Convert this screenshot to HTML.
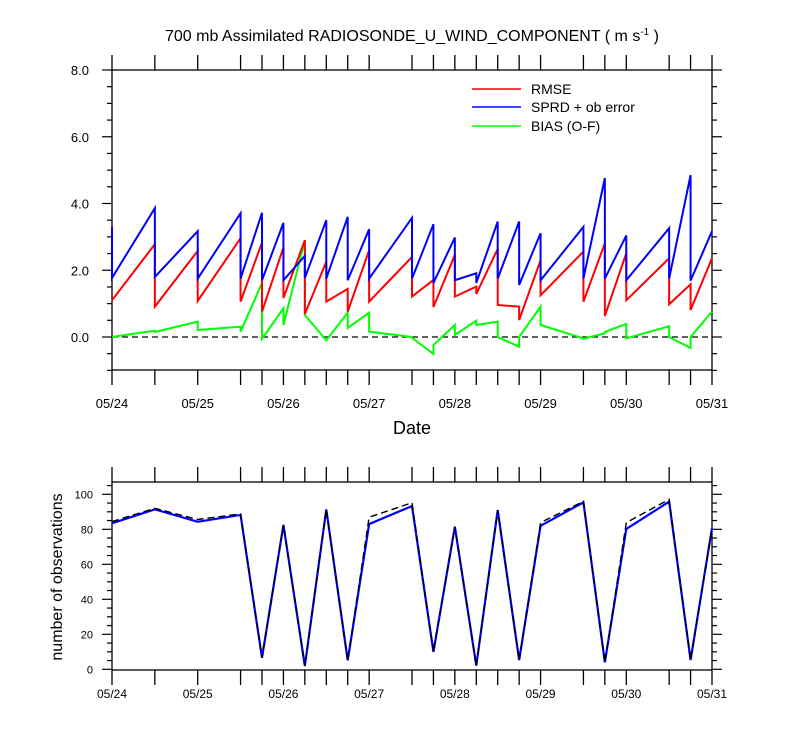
<!DOCTYPE html>
<html><head><meta charset="utf-8"><style>
body{margin:0;background:#fff}
svg text{font-family:"Liberation Sans",sans-serif;fill:#000}
</style></head><body>
<svg id="c" width="800" height="750" xmlns="http://www.w3.org/2000/svg">
<text x="412" y="41" font-size="16" text-anchor="middle">700 mb Assimilated RADIOSONDE_U_WIND_COMPONENT ( m s<tspan dy="-6" font-size="10">-1</tspan><tspan dy="6"> )</tspan></text>
<text x="412" y="434" font-size="18" text-anchor="middle">Date</text>
<text transform="translate(62,577) rotate(-90)" font-size="16" text-anchor="middle">number of observations</text>
<g>
<line x1="472" x2="521" y1="89" y2="89" stroke="#f00" stroke-width="1.5"/>
<text x="531" y="94" font-size="14">RMSE</text>
<line x1="472" x2="521" y1="107" y2="107" stroke="#00f" stroke-width="1.5"/>
<text x="531" y="112" font-size="14">SPRD + ob error</text>
<line x1="472" x2="521" y1="126" y2="126" stroke="#0f0" stroke-width="1.5"/>
<text x="531" y="131" font-size="14">BIAS (O-F)</text>
</g>
</svg>
<script>
const times=[0,0.5,1,1.5,1.75,2,2.25,2.5,2.75,3,3.5,3.75,4,4.25,4.5,4.75,5,5.5,5.75,6,6.5,6.75,7];
const dayLabels=["05/24","05/25","05/26","05/27","05/28","05/29","05/30","05/31"];
const rmseBefore=[1.1,2.78,2.58,2.96,2.83,2.68,2.9,2.26,1.44,2.6,2.4,1.71,2.46,1.51,2.64,0.91,2.3,2.56,2.81,2.51,2.36,1.58,2.36];
const rmseAfter=[1.1,0.91,1.08,1.06,0.76,1.17,0.69,1.06,0.76,1.06,1.21,0.9,1.21,1.29,0.96,0.51,1.25,1.06,0.63,1.1,0.98,0.81,2.36];
const sprdBefore=[3.3,3.86,3.17,3.71,3.72,3.42,2.43,3.5,3.6,3.23,3.57,3.38,2.98,1.91,3.46,3.46,3.11,3.3,4.76,3.04,3.26,4.85,3.17];
const sprdAfter=[1.77,1.8,1.75,1.75,1.7,1.7,1.77,1.75,1.7,1.75,1.75,1.62,1.7,1.62,1.75,1.56,1.7,1.75,1.75,1.7,1.75,1.69,3.17];
const biasBefore=[0,0.19,0.46,0.31,1.62,0.86,2.9,-0.1,0.73,0.73,0,-0.51,0.36,0.49,0.46,-0.29,0.91,-0.04,0.11,0.39,0.32,-0.33,0.76];
const biasAfter=[0,0.15,0.21,0.16,-0.06,0.36,0.66,-0.1,0.27,0.16,-0.02,-0.24,0.06,0.36,0,0,0.36,-0.05,0.15,-0.04,0,0,0.76];
const obsUsed=[83.4,91.4,84.3,88.2,6.6,82.5,1.9,91.4,5.1,83,93.3,10,81.5,2.1,91,5.3,82,95.4,4,80.2,95.8,5.3,80.6];
const obsTotal=[84.4,92,85.6,88.8,6.6,82.5,1.9,91.4,5.1,86.9,95.2,10,81.5,2.1,91,5.3,83.8,96,4,83.8,97.1,5.3,80.6];
const yTicksTop=[0,2,4,6,8];
const yTicksBot=[0,20,40,60,80,100];

const svg=document.getElementById('c');
const NS='http://www.w3.org/2000/svg';
function mk(tag,attrs,name,parent){const e=document.createElementNS(NS,tag);for(const k in attrs)e.setAttribute(k,attrs[k]);


(parent||svg).appendChild(e);return e;}
const X=t=>112+t*600/7;
const Y1=v=>337-v*(267/8);
const Y2=v=>669.3-v*1.75;

// top frame
mk('rect',{x:112,y:70,width:600,height:300,fill:'none',stroke:'#000','stroke-width':1.3},'top-plot-frame');
mk('line',{x1:112,x2:712,y1:Y1(0),y2:Y1(0),stroke:'#000','stroke-width':1.3,'stroke-dasharray':'6,4'},'zero-line');
for(const t of times){
 mk('line',{x1:X(t),x2:X(t),y1:370,y2:385,stroke:'#000','stroke-width':1.3},'x-tick-bottom');
 mk('line',{x1:X(t),x2:X(t),y1:55,y2:70,stroke:'#000','stroke-width':1.3},'x-tick-top');
 mk('line',{x1:X(t),x2:X(t),y1:670,y2:685,stroke:'#000','stroke-width':1.3},'x-tick-obs-bottom');
 mk('line',{x1:X(t),x2:X(t),y1:467,y2:482,stroke:'#000','stroke-width':1.3},'x-tick-obs-top');
}
dayLabels.forEach((d,i)=>{
 const a=mk('text',{x:X(i),y:408,'font-size':13,'text-anchor':'middle'},'x-tick-label');a.textContent=d;
 const b=mk('text',{x:X(i),y:698,'font-size':12,'text-anchor':'middle'},'x-tick-label-obs');b.textContent=d;
});
for(let v=-1;v<=8.001;v+=0.5){
 const maj=Math.abs(v-Math.round(v/2)*2)<1e-6;
 const L=maj?10:5;
 mk('line',{x1:112-L,x2:112,y1:Y1(v),y2:Y1(v),stroke:'#000','stroke-width':1.2},'y-tick-left');
 mk('line',{x1:712,x2:712+L,y1:Y1(v),y2:Y1(v),stroke:'#000','stroke-width':1.2},'y-tick-right');
}
yTicksTop.forEach(v=>{const e=mk('text',{x:89,y:Y1(v)+5,'font-size':13,'text-anchor':'end'},'y-tick-label');e.textContent=v.toFixed(1);});

function saw(b,a){const p=[];times.forEach((t,i)=>{p.push(X(t)+','+Y1(b[i]));p.push(X(t)+','+Y1(a[i]));});return p.join(' ');}
mk('polyline',{points:saw(biasBefore,biasAfter),fill:'none',stroke:'#0f0','stroke-width':2},'bias-series');
mk('polyline',{points:saw(rmseBefore,rmseAfter),fill:'none',stroke:'#f00','stroke-width':2},'rmse-series');
mk('polyline',{points:saw(sprdBefore,sprdAfter),fill:'none',stroke:'#00f','stroke-width':2},'sprd-series');

// bottom plot
mk('rect',{x:112,y:482,width:600,height:188,fill:'none',stroke:'#000','stroke-width':1.3},'obs-plot-frame');
for(let v=0;v<=105;v+=5){
 const maj=v%20===0;const L=maj?10:5;
 mk('line',{x1:112-L,x2:112,y1:Y2(v),y2:Y2(v),stroke:'#000','stroke-width':1.2},'obs-y-tick-left');
 mk('line',{x1:712,x2:712+L,y1:Y2(v),y2:Y2(v),stroke:'#000','stroke-width':1.2},'obs-y-tick-right');
}
yTicksBot.forEach(v=>{const e=mk('text',{x:93,y:Y2(v)+4,'font-size':11,'text-anchor':'end'},'obs-y-tick-label');e.textContent=v;});
const pts=arr=>times.map((t,i)=>X(t)+','+Y2(arr[i])).join(' ');
mk('polyline',{points:pts(obsUsed),fill:'none',stroke:'#00f','stroke-width':2.2},'obs-used-series');
mk('polyline',{points:pts(obsTotal),fill:'none',stroke:'#000','stroke-width':1.4,'stroke-dasharray':'7,4'},'obs-total-series');
</script>
</body></html>
